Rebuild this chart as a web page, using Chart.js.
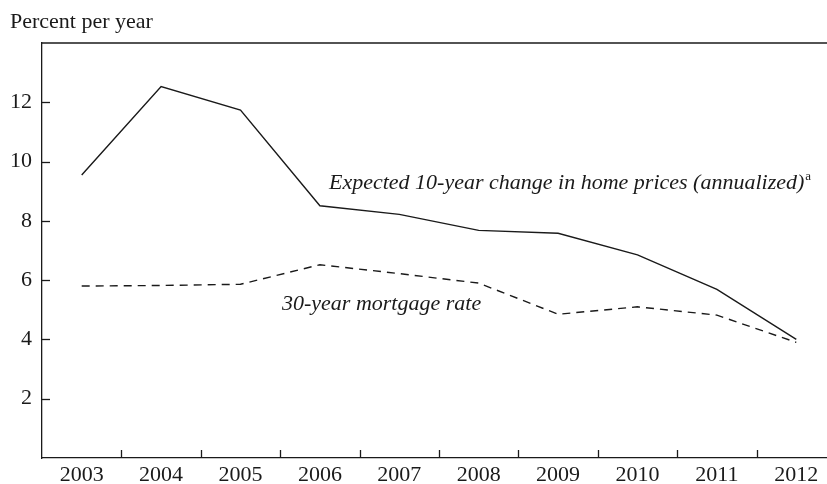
<!DOCTYPE html>
<html>
<head>
<meta charset="utf-8">
<script src="https://cdn.jsdelivr.net/npm/chart.js@4/dist/chart.umd.min.js"></script>
<style>
  html, body { margin: 0; padding: 0; background: #fff; overflow: hidden; }
  #wrap { width: 840px; height: 484px; }
</style>
</head>
<body>
<div id="wrap"><canvas id="chart" width="840" height="484"></canvas></div>
<script>
const years = ['2003', '2004', '2005', '2006', '2007', '2008', '2009', '2010', '2011', '2012'];
const homePrices = [9.55, 12.53, 11.74, 8.51, 8.22, 7.68, 7.58, 6.85, 5.69, 4.0];
const mortgageRate = [5.8, 5.82, 5.86, 6.52, 6.22, 5.9, 4.85, 5.1, 4.82, 3.9];
const yTicks = [2, 4, 6, 8, 10, 12];

const INK = '#1a1a1a';
const FONT = '"Liberation Serif", "Times New Roman", serif';

// frame top line, inward tick marks and text labels
const decorations = {
    id: 'decorations',
    afterDraw(chart) {
        const { ctx, chartArea: area, scales } = chart;
        ctx.save();
        ctx.strokeStyle = INK;
        ctx.lineWidth = 1.3;

        ctx.beginPath();
        ctx.moveTo(area.left, area.top);
        ctx.lineTo(area.right, area.top);
        ctx.stroke();

        yTicks.forEach(v => {
            const y = Math.round(scales.y.getPixelForValue(v)) + 0.5;
            ctx.beginPath();
            ctx.moveTo(area.left, y);
            ctx.lineTo(area.left + 8, y);
            ctx.stroke();
        });

        for (let i = 0; i < years.length - 1; i++) {
            const x = Math.round(scales.x.getPixelForValue(i + 0.5)) + 0.5;
            ctx.beginPath();
            ctx.moveTo(x, area.bottom);
            ctx.lineTo(x, area.bottom - 8);
            ctx.stroke();
        }

        ctx.fillStyle = INK;
        ctx.textBaseline = 'alphabetic';
        ctx.textAlign = 'left';
        ctx.font = '22px ' + FONT;
        ctx.fillText('Percent per year', 10, 28);

        ctx.font = 'italic 22px ' + FONT;
        const label = 'Expected 10-year change in home prices (annualized)';
        ctx.fillText(label, 329, 189);
        const w = ctx.measureText(label).width;
        ctx.font = '13px ' + FONT;
        ctx.fillText('a', 329 + w + 1, 180);

        ctx.font = 'italic 22px ' + FONT;
        ctx.fillText('30-year mortgage rate', 282, 310);
        ctx.restore();
    }
};

new Chart(document.getElementById('chart'), {
    type: 'line',
    data: {
        labels: years,
        datasets: [
            {
                label: 'Expected 10-year change in home prices (annualized)',
                data: homePrices,
                borderColor: INK,
                borderWidth: 1.4,
                pointRadius: 0,
                tension: 0
            },
            {
                label: '30-year mortgage rate',
                data: mortgageRate,
                borderColor: INK,
                borderWidth: 1.4,
                borderDash: [8, 6],
                pointRadius: 0,
                tension: 0
            }
        ]
    },
    options: {
        responsive: false,
        animation: false,
        layout: { padding: { top: 43, right: 4, left: 0, bottom: 0 } },
        plugins: {
            legend: { display: false },
            tooltip: { enabled: false }
        },
        scales: {
            x: {
                offset: true,
                grid: { display: false, drawTicks: false },
                border: { display: true, color: INK, width: 1.3 },
                ticks: {
                    color: INK,
                    font: { family: FONT, size: 22 },
                    padding: 4,
                    maxRotation: 0,
                    autoSkip: false
                },
                afterFit(scale) { scale.height = 26; }
            },
            y: {
                min: 0,
                max: 14,
                grid: { display: false, drawTicks: false },
                border: { display: true, color: INK, width: 1.3 },
                ticks: {
                    stepSize: 2,
                    color: INK,
                    font: { family: FONT, size: 22 },
                    padding: 10,
                    callback: v => yTicks.includes(v) ? String(v) : ''
                },
                afterFit(scale) { scale.width = 42; }
            }
        }
    },
    plugins: [decorations]
});
</script>
</body>
</html>
